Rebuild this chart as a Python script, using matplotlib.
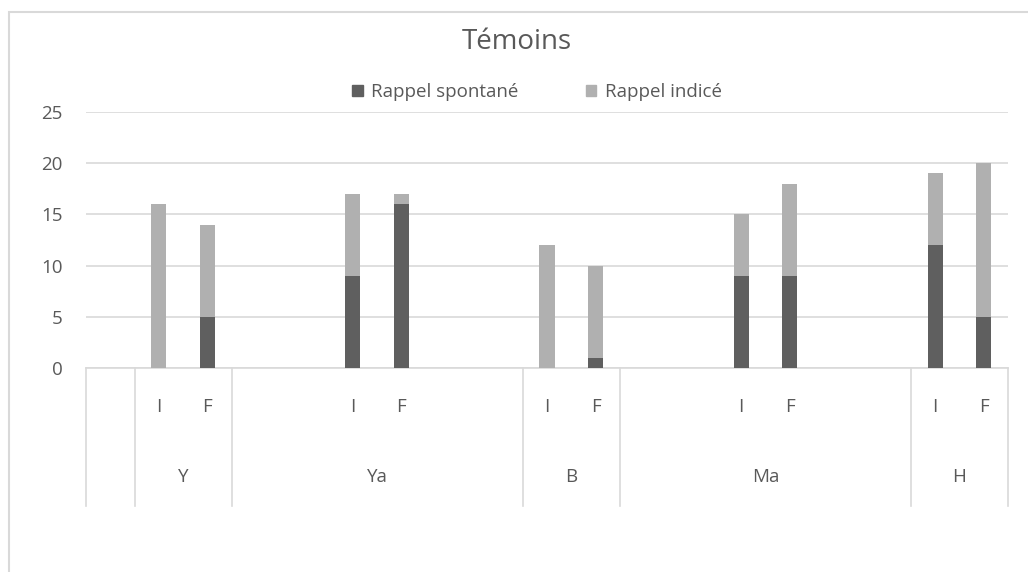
import numpy as np
import matplotlib.pyplot as plt
from matplotlib.patches import Rectangle, Patch

# category layout (Excel multi-level axis, with blank slots)
groups = ['', 'Y', 'Ya', 'B', 'Ma', 'H']
group_sizes = [1, 2, 6, 2, 6, 2]
sub_labels = ['',
              'I', 'F',
              '', '', 'I', 'F', '', '',
              'I', 'F',
              '', '', 'I', 'F', '', '',
              'I', 'F']

nan = np.nan
spontane = [nan, 0, 5, nan, nan, 9, 16, nan, nan, 0, 1, nan, nan, 9, 9, nan, nan, 12, 5]
indice = [nan, 16, 9, nan, nan, 8, 1, nan, nan, 12, 9, nan, nan, 6, 9, nan, nan, 7, 15]

dark = '#5f5f5f'
light = '#b0b0b0'
grid = '#d9d9d9'
txt = '#595959'

plt.rcParams['font.family'] = ['Open Sans', 'DejaVu Sans']

W, H = 1028, 572
fig = plt.figure(figsize=(W / 100, H / 100), dpi=100)
ax = fig.add_axes([86 / W, 1 - 368 / H, 922 / W, 256 / H])

x = np.arange(len(sub_labels))
sp = np.nan_to_num(spontane)
ind = np.nan_to_num(indice)
ax.bar(x, sp, width=0.31, color=dark, label='Rappel spontané', zorder=3)
ax.bar(x, ind, width=0.31, bottom=sp, color=light, label='Rappel indicé', zorder=3)

ax.set_xlim(-0.5, len(sub_labels) - 0.5)
ax.set_ylim(0, 25)
ax.set_yticks(range(0, 26, 5))
ax.yaxis.grid(True, color=grid, linewidth=1.2, zorder=0)
for s in ['left', 'right', 'top']:
    ax.spines[s].set_visible(False)
ax.spines['bottom'].set_color(grid)
ax.spines['bottom'].set_linewidth(1.2)
ax.tick_params(axis='y', length=0, labelsize=13.5, labelcolor=txt, pad=17)
ax.tick_params(axis='x', length=0)
ax.set_xticks([])

# multi-level category labels
px = 1 / 256  # one pixel in axes height units
tr = ax.get_xaxis_transform()
for i, lab in enumerate(sub_labels):
    if lab:
        ax.text(i, -39 * px, lab, transform=tr, ha='center', va='center',
                fontsize=13.5, color=txt)
edges = np.concatenate([[0], np.cumsum(group_sizes)]) - 0.5
for e in edges:
    ax.plot([e, e], [0, -138 * px], transform=tr, color=grid, lw=1.2, clip_on=False)
for g, a, b in zip(groups, edges[:-1], edges[1:]):
    if g:
        ax.text((a + b) / 2, -109 * px, g, transform=tr, ha='center', va='center',
                fontsize=13.5, color=txt)

fig.suptitle('Témoins', x=517 / W, y=1 - 42 / H, va='center',
             fontsize=20, color=txt)
handles = [Patch(color=dark, label='Rappel spontané'), Patch(color=light, label='Rappel indicé')]
fig.legend(handles=handles, loc='center', bbox_to_anchor=(537 / W, 1 - 92 / H), ncol=2,
           frameon=False, fontsize=13.5, labelcolor=txt, handlelength=0.55,
           handleheight=0.55, handletextpad=0.45, columnspacing=3.6)

# chart area border
fig.patches.append(Rectangle((8.5 / W, -0.1), 1.2, 1 - 12 / H + 0.1, transform=fig.transFigure,
                             fill=False, edgecolor=grid, linewidth=1.5))

fig.savefig('out.png', dpi=100)
